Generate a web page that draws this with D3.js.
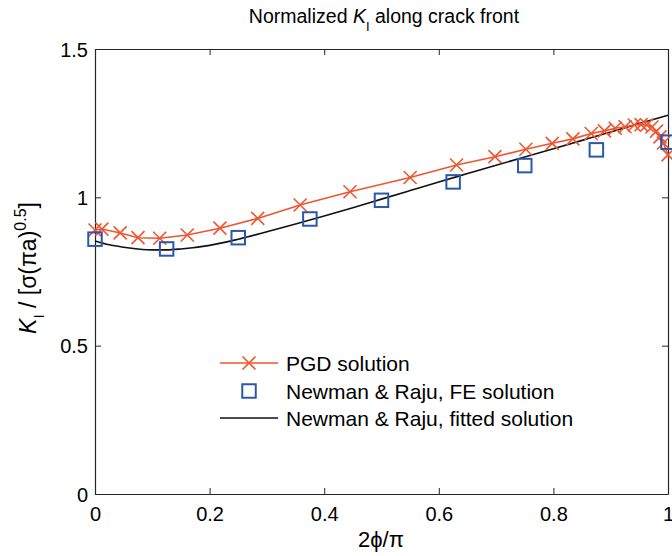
<!DOCTYPE html>
<html>
<head>
<meta charset="utf-8">
<script src="https://cdn.jsdelivr.net/npm/d3@7"></script>
<style>
  html, body { margin: 0; padding: 0; background: #fff; }
  svg { display: block; font-family: "Liberation Sans", Arial, Helvetica, sans-serif; }
</style>
</head>
<body>
<svg id="chart" width="672" height="556"></svg>
<script>
// ---- data ----
const pgdX = [0, 0.012, 0.044, 0.075, 0.113, 0.161, 0.218, 0.284, 0.358, 0.445, 0.550, 0.631, 0.698, 0.752, 0.798, 0.834, 0.866, 0.889, 0.908, 0.925, 0.941, 0.953, 0.963, 0.972, 0.980, 0.986, 0.992, 1.0];
const pgdY = [0.890, 0.893, 0.880, 0.864, 0.862, 0.873, 0.896, 0.929, 0.974, 1.019, 1.067, 1.109, 1.137, 1.162, 1.182, 1.197, 1.215, 1.224, 1.233, 1.238, 1.244, 1.245, 1.244, 1.237, 1.223, 1.204, 1.183, 1.143];

const feX = [0, 0.125, 0.25, 0.375, 0.5, 0.625, 0.75, 0.875, 1.0];
const feY = [0.859, 0.826, 0.864, 0.927, 0.990, 1.052, 1.107, 1.160, 1.186];

const fitX = [0, 0.025, 0.05, 0.075, 0.1, 0.125, 0.15, 0.2, 0.25, 0.3, 0.35, 0.4, 0.45, 0.5, 0.55, 0.6, 0.65, 0.7, 0.75, 0.8, 0.85, 0.9, 0.95, 1.0];
const fitY = [0.853, 0.840, 0.832, 0.826, 0.823, 0.823, 0.826, 0.838, 0.859, 0.884, 0.910, 0.937, 0.965, 0.994, 1.023, 1.052, 1.080, 1.108, 1.136, 1.164, 1.192, 1.220, 1.249, 1.277];

const xTicks = [0, 0.2, 0.4, 0.6, 0.8, 1];
const yTicks = [0, 0.5, 1, 1.5];
const xTickLabels = ["0", "0.2", "0.4", "0.6", "0.8", "1"];
const yTickLabels = ["0", "0.5", "1", "1.5"];
const legendLabels = ["PGD solution", "Newman & Raju, FE solution", "Newman & Raju, fitted solution"];

// ---- layout ----
const svg = d3.select("#chart");
const L = 95, R = 668, T = 49, B = 494;
const x = d3.scaleLinear().domain([0, 1]).range([L, R]);
const y = d3.scaleLinear().domain([0, 1.5]).range([B, T]);

const red = "#f0552f", blue = "#2a58aa", axisCol = "#262626";

// axes box with inward ticks
const tickLen = 6;
const gx = svg.append("g").attr("transform", `translate(0,${B})`)
  .call(d3.axisBottom(x).tickValues(xTicks).tickSizeInner(-tickLen).tickSizeOuter(0).tickPadding(0).tickFormat((d, i) => xTickLabels[i]));
const gxt = svg.append("g").attr("transform", `translate(0,${T})`)
  .call(d3.axisTop(x).tickValues(xTicks).tickSizeInner(-tickLen).tickSizeOuter(0).tickFormat(""));
const gy = svg.append("g").attr("transform", `translate(${L},0)`)
  .call(d3.axisLeft(y).tickValues(yTicks).tickSizeInner(-tickLen).tickSizeOuter(0).tickPadding(0).tickFormat((d, i) => yTickLabels[i]));
const gyr = svg.append("g").attr("transform", `translate(${R},0)`)
  .call(d3.axisRight(y).tickValues(yTicks).tickSizeInner(-tickLen).tickSizeOuter(0).tickFormat(""));

[gx, gxt, gy, gyr].forEach(g => {
  g.select(".domain").attr("stroke", axisCol).attr("stroke-width", 1.2);
  g.selectAll(".tick line").attr("stroke", axisCol).attr("stroke-width", 1);
  g.selectAll("text").attr("fill", "#000").attr("font-size", 20).attr("font-family", "Liberation Sans, Arial, sans-serif");
});
gx.selectAll(".tick text").attr("y", 27).attr("dy", 0);
gy.selectAll(".tick text").attr("x", -7).attr("dy", "0.36em");

// fitted line
svg.append("path")
  .datum(fitX.map((d, i) => [d, fitY[i]]))
  .attr("fill", "none").attr("stroke", "#111").attr("stroke-width", 1.6)
  .attr("d", d3.line().x(d => x(d[0])).y(d => y(d[1])).curve(d3.curveMonotoneX));

// PGD line
svg.append("path")
  .datum(pgdX.map((d, i) => [d, pgdY[i]]))
  .attr("fill", "none").attr("stroke", red).attr("stroke-width", 1.6)
  .attr("d", d3.line().x(d => x(d[0])).y(d => y(d[1])));

// PGD markers (x)
const xs = 6.5;
const xMarker = (g, cx, cy) => {
  g.append("path")
    .attr("d", `M${cx - xs},${cy - xs}L${cx + xs},${cy + xs}M${cx - xs},${cy + xs}L${cx + xs},${cy - xs}`)
    .attr("stroke", red).attr("stroke-width", 1.6).attr("fill", "none");
};
const gp = svg.append("g");
pgdX.forEach((d, i) => xMarker(gp, x(d), y(pgdY[i])));

// FE markers (squares)
const sq = 13.5;
svg.append("g").selectAll("rect").data(feX.map((d, i) => [d, feY[i]])).join("rect")
  .attr("x", d => x(d[0]) - sq / 2).attr("y", d => y(d[1]) - sq / 2)
  .attr("width", sq).attr("height", sq)
  .attr("fill", "none").attr("stroke", blue).attr("stroke-width", 2);

// legend
const lg = svg.append("g");
const rowsY = [363, 391, 418];
const lx1 = 220, lx2 = 278, lmx = 249, ltx = 286;
lg.append("line").attr("x1", lx1).attr("x2", lx2).attr("y1", rowsY[0]).attr("y2", rowsY[0]).attr("stroke", red).attr("stroke-width", 1.6);
xMarker(lg, lmx, rowsY[0]);
lg.append("rect").attr("x", lmx - sq / 2).attr("y", rowsY[1] - sq / 2).attr("width", sq).attr("height", sq)
  .attr("fill", "none").attr("stroke", blue).attr("stroke-width", 2);
lg.append("line").attr("x1", lx1).attr("x2", lx2).attr("y1", rowsY[2]).attr("y2", rowsY[2]).attr("stroke", "#111").attr("stroke-width", 1.6);
legendLabels.forEach((t, i) => {
  lg.append("text").attr("x", ltx).attr("y", rowsY[i]).attr("dy", "0.36em")
    .attr("font-size", 21).attr("fill", "#000").text(t);
});

// title
const title = svg.append("text").attr("x", 384).attr("y", 23).attr("text-anchor", "middle")
  .attr("font-size", 19.5).attr("fill", "#000");
title.append("tspan").text("Normalized ");
title.append("tspan").attr("font-style", "italic").text("K");
title.append("tspan").attr("font-size", 13).attr("dy", 8).text("I");
title.append("tspan").attr("dy", -8).text(" along crack front");

// x label
svg.append("text").attr("x", 381).attr("y", 547).attr("text-anchor", "middle")
  .attr("font-size", 22).attr("fill", "#000").text("2\u03D5/\u03C0");

// y label
const yl = svg.append("text").attr("transform", "translate(36,268) rotate(-90)")
  .attr("text-anchor", "middle").attr("font-size", 23).attr("fill", "#000");
yl.append("tspan").attr("font-style", "italic").text("K");
yl.append("tspan").attr("font-size", 15).attr("dy", 8).text("I");
yl.append("tspan").attr("dy", -8).text(" / [\u03C3(\u03C0a)");
yl.append("tspan").attr("font-size", 16).attr("dy", -10).text("0.5");
yl.append("tspan").attr("dy", 10).text("]");
</script>
</body>
</html>
